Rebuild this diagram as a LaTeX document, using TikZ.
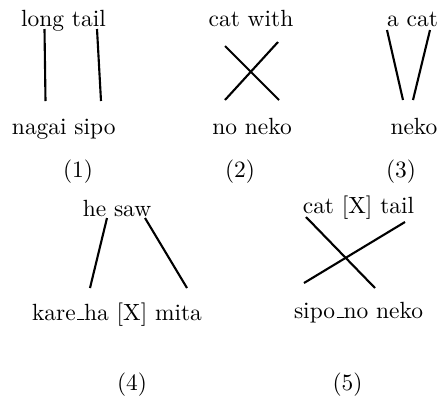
\documentclass[tikz,border=0pt]{standalone}
\usepackage{amsmath}
\usepackage{tikz}
\newcommand{\ulbar}{\leavevmode\kern.06em\vbox{\hrule width.3em}}

\begin{document}
\begin{tikzpicture}[x=0.015cm, y=-0.015cm, word/.style={anchor=base, inner sep=0pt}, link/.style={line width=0.9pt}]
        \useasboundingbox (0,0) rectangle (438,395);

        \node[word]     (up1)   at (63.5,26)    {long tail};
        \node[word]     (lo1)   at (63.8,134)   {nagai sipo};
        \node[word]     (n1)    at (78,177)     {(1)};
        \node[word]     (up2)   at (251,26)     {cat with};
        \node[word]     (lo2)   at (252,134)    {no neko};
        \node[word]     (n2)    at (240,177)    {(2)};
        \node[word]     (up3)   at (412.5,26)   {a cat};
        \node[word]     (lo3)   at (414,134)    {neko};
        \node[word]     (n3)    at (401,177)    {(3)};
        \node[word]     (up4)   at (117,216)    {he saw};
        \node[word]     (lo4)   at (117,320)    {kare\ulbar ha [X] mita};
        \node[word]     (n4)    at (132,390)    {(4)};
        \node[word]     (up5)   at (358.5,213)  {cat [X] tail};
        \node[word]     (lo5)   at (358.5,318)  {sipo\ulbar no neko};
        \node[word]     (n5)    at (347.5,390)  {(5)};

        \coordinate (a1) at (44.5,29);   \coordinate (b1) at (45.5,101);
        \coordinate (a2) at (97,29);     \coordinate (b2) at (101,101);
        \coordinate (a3) at (225,46);    \coordinate (b3) at (279,100);
        \coordinate (a4) at (278,42);    \coordinate (b4) at (225,100);
        \coordinate (a5) at (387,30);    \coordinate (b5) at (403,100);
        \coordinate (a6) at (430,30);    \coordinate (b6) at (413,100);
        \coordinate (a7) at (107,218);   \coordinate (b7) at (90,288);
        \coordinate (a8) at (145,218);   \coordinate (b8) at (187,288);
        \coordinate (a9) at (306,217);   \coordinate (b9) at (375,288);
        \coordinate (a10) at (405,222);  \coordinate (b10) at (304,283);

        \path[link]
        (a1) edge (b1)
        (a2) edge (b2)
        (a3) edge (b3)
        (a4) edge (b4)
        (a5) edge (b5)
        (a6) edge (b6)
        (a7) edge (b7)
        (a8) edge (b8)
        (a9) edge (b9)
        (a10) edge (b10)
        ;
    \end{tikzpicture}
\end{document}
